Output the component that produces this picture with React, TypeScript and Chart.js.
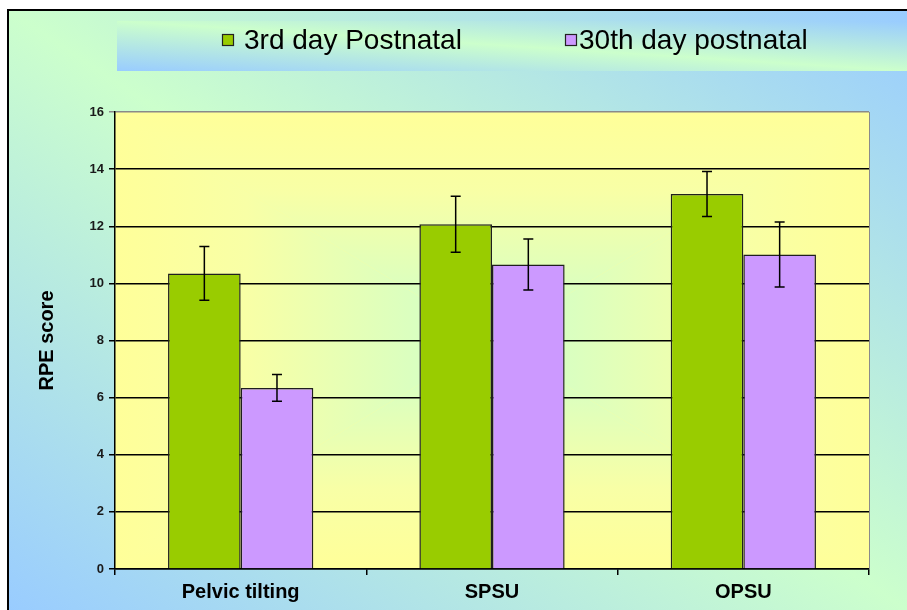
import React, { useEffect, useRef } from "react";
import { Chart, registerables } from "chart.js";

Chart.register(...registerables);

const categories = ["Pelvic tilting", "SPSU", "OPSU"];
const seriesLabels = ["3rd day Postnatal", "30th day postnatal"];
const day3Values = [10.35, 12.07, 13.13];
const day3Errors = [0.94, 0.98, 0.79];
const day30Values = [6.34, 10.66, 11.01];
const day30Errors = [0.47, 0.89, 1.14];
const yMin = 0;
const yMax = 16;
const yStep = 2;
const yTitle = "RPE score";

const FONT = "'Liberation Sans', Arial, sans-serif";
const GREEN = "#99cc00";
const PURPLE = "#cc99ff";

function diagGradient(ctx: CanvasRenderingContext2D, x: number, y: number, w: number, h: number, edge: string, mid: string) {
  const cx = x + w / 2;
  const cy = y + h / 2;
  const len = Math.hypot(w, h);
  const ux = h / len;
  const uy = -w / len;
  const d = (w / 2) * ux + (-h / 2) * uy;
  const g = ctx.createLinearGradient(cx - d * ux, cy - d * uy, cx + d * ux, cy + d * uy);
  g.addColorStop(0, edge);
  g.addColorStop(0.5, mid);
  g.addColorStop(1, edge);
  return g;
}

const backgroundPlugin = {
  id: "bgPlugin",
  beforeDraw(chart: any) {
    const { ctx, width, height, chartArea } = chart;
    ctx.save();
    ctx.fillStyle = "#ffffff";
    ctx.fillRect(0, 0, width, height);
    // outer frame
    const fx = 8, fy = 10;
    ctx.fillStyle = diagGradient(ctx, fx, fy, width - fx, height - fy, "#99ccff", "#ccffcc");
    ctx.fillRect(fx, fy, width - fx, height - fy);
    ctx.strokeStyle = "#000";
    ctx.lineWidth = 2;
    ctx.beginPath();
    ctx.moveTo(fx, height);
    ctx.lineTo(fx, fy);
    ctx.lineTo(width, fy);
    ctx.stroke();
    // legend box
    const lx = 117, ly = 21, lw = width - 117, lh = 50;
    ctx.fillStyle = diagGradient(ctx, lx, ly, lw, lh, "#99ccff", "#ccffcc");
    ctx.fillRect(lx, ly, lw, lh);
    // plot area rectangular gradient
    const { left: L, top: T, right: R, bottom: B } = chartArea;
    const cx = (L + R) / 2, cy = (T + B) / 2;
    const edge = "#ffff99", mid = "#ccffcc";
    const tri = (pts: number[][], g: CanvasGradient) => {
      ctx.fillStyle = g;
      ctx.beginPath();
      ctx.moveTo(pts[0][0], pts[0][1]);
      for (let i = 1; i < pts.length; i++) ctx.lineTo(pts[i][0], pts[i][1]);
      ctx.closePath();
      ctx.fill();
    };
    const mk = (x0: number, y0: number, x1: number, y1: number) => {
      const g = ctx.createLinearGradient(x0, y0, x1, y1);
      g.addColorStop(0, edge);
      g.addColorStop(0.35, "#f8ffa6");
      g.addColorStop(1, mid);
      return g;
    };
    ctx.fillStyle = edge;
    ctx.fillRect(L, T, R - L, B - T);
    tri([[L, T], [R, T], [cx, cy]], mk(cx, T, cx, cy));
    tri([[L, B], [R, B], [cx, cy]], mk(cx, B, cx, cy));
    tri([[L, T], [L, B], [cx, cy]], mk(L, cy, cx, cy));
    tri([[R, T], [R, B], [cx, cy]], mk(R, cy, cx, cy));
    ctx.restore();
  },
  beforeDatasetsDraw(chart: any) {
    const { ctx, chartArea } = chart;
    ctx.save();
    ctx.strokeStyle = "#8a8a8a";
    ctx.lineWidth = 1;
    ctx.beginPath();
    ctx.moveTo(chartArea.right + 0.5, chartArea.top);
    ctx.lineTo(chartArea.right + 0.5, chartArea.bottom);
    ctx.stroke();
    ctx.restore();
  },
  afterDatasetsDraw(chart: any) {
    const { ctx } = chart;
    const yScale = chart.scales.y;
    const errs = [day3Errors, day30Errors];
    ctx.save();
    ctx.strokeStyle = "#000";
    ctx.lineWidth = 1.5;
    chart.data.datasets.forEach((ds: any, i: number) => {
      const meta = chart.getDatasetMeta(i);
      meta.data.forEach((bar: any, j: number) => {
        const v = ds.data[j];
        const e = errs[i][j];
        const x = bar.x;
        const yt = yScale.getPixelForValue(v + e);
        const yb = yScale.getPixelForValue(v - e);
        ctx.beginPath();
        ctx.moveTo(x, yt);
        ctx.lineTo(x, yb);
        ctx.moveTo(x - 5, yt);
        ctx.lineTo(x + 5, yt);
        ctx.moveTo(x - 5, yb);
        ctx.lineTo(x + 5, yb);
        ctx.stroke();
      });
    });
    ctx.restore();
  },
  afterDraw(chart: any) {
    const { ctx } = chart;
    ctx.save();
    const items = [
      { x: 222, tx: 244, color: GREEN, label: chart.data.datasets[0].label },
      { x: 565, tx: 579, color: PURPLE, label: chart.data.datasets[1].label },
    ];
    ctx.font = `28px ${FONT}`;
    ctx.textBaseline = "alphabetic";
    ctx.textAlign = "left";
    items.forEach((it) => {
      ctx.fillStyle = it.color;
      ctx.fillRect(it.x, 34, 11, 11);
      ctx.strokeStyle = "#222";
      ctx.lineWidth = 1.2;
      ctx.strokeRect(it.x + 0.5, 34.5, 11, 11);
      ctx.fillStyle = "#000";
      ctx.fillText(it.label, it.tx, 49);
    });
    ctx.restore();
  },
};

export default function App() {
  const canvasRef = useRef<HTMLCanvasElement | null>(null);

  useEffect(() => {
    const canvas = canvasRef.current;
    if (!canvas) return;
    const chart = new Chart(canvas, {
      type: "bar",
      data: {
        labels: categories,
        datasets: [
          {
            label: seriesLabels[0],
            data: day3Values,
            backgroundColor: GREEN,
            borderColor: "#1f1f1f",
            borderWidth: 1.5,
            barPercentage: 1,
            categoryPercentage: 0.578,
          },
          {
            label: seriesLabels[1],
            data: day30Values,
            backgroundColor: PURPLE,
            borderColor: "#1f1f1f",
            borderWidth: 1.5,
            barPercentage: 1,
            categoryPercentage: 0.578,
          },
        ],
      },
      options: {
        responsive: false,
        animation: false,
        devicePixelRatio: 1,
        layout: { padding: { top: 112, right: 38, left: 0, bottom: 0 } },
        plugins: {
          legend: { display: false },
          tooltip: { enabled: false },
        },
        scales: {
          x: {
            grid: {
              offset: true,
              drawOnChartArea: false,
              drawTicks: true,
              tickLength: 6,
              color: "#000",
              lineWidth: 1.5,
            },
            border: { display: true, color: "#000", width: 1.5 },
            ticks: {
              font: { family: FONT, size: 20, weight: "bold" },
              color: "#000",
              padding: 5,
              maxRotation: 0,
            },
            afterFit: (s: any) => {
              s.height = 41;
            },
          },
          y: {
            min: yMin,
            max: yMax,
            ticks: {
              stepSize: yStep,
              font: { family: FONT, size: 13, weight: "bold" },
              color: "#1a1a1a",
              padding: 5,
            },
            grid: {
              color: (c: any) => (c.tick && c.tick.value === yMax ? "#8a8a8a" : "#000"),
              lineWidth: 1.5,
              tickLength: 6,
            },
            border: { display: true, color: "#000", width: 1.5 },
            title: {
              display: true,
              text: yTitle,
              font: { family: FONT, size: 20, weight: "bold" },
              color: "#000",
              padding: { top: 35, bottom: 0 },
            },
            afterFit: (s: any) => {
              s.width = 115;
            },
          },
        },
      } as any,
      plugins: [backgroundPlugin],
    });
    return () => chart.destroy();
  }, []);

  return (
    <div style={{ position: "fixed", left: 0, top: 0, width: 907, height: 610, overflow: "hidden" }}>
      <canvas ref={canvasRef} width={907} height={610} style={{ display: "block", width: 907, height: 610 }} />
    </div>
  );
}
